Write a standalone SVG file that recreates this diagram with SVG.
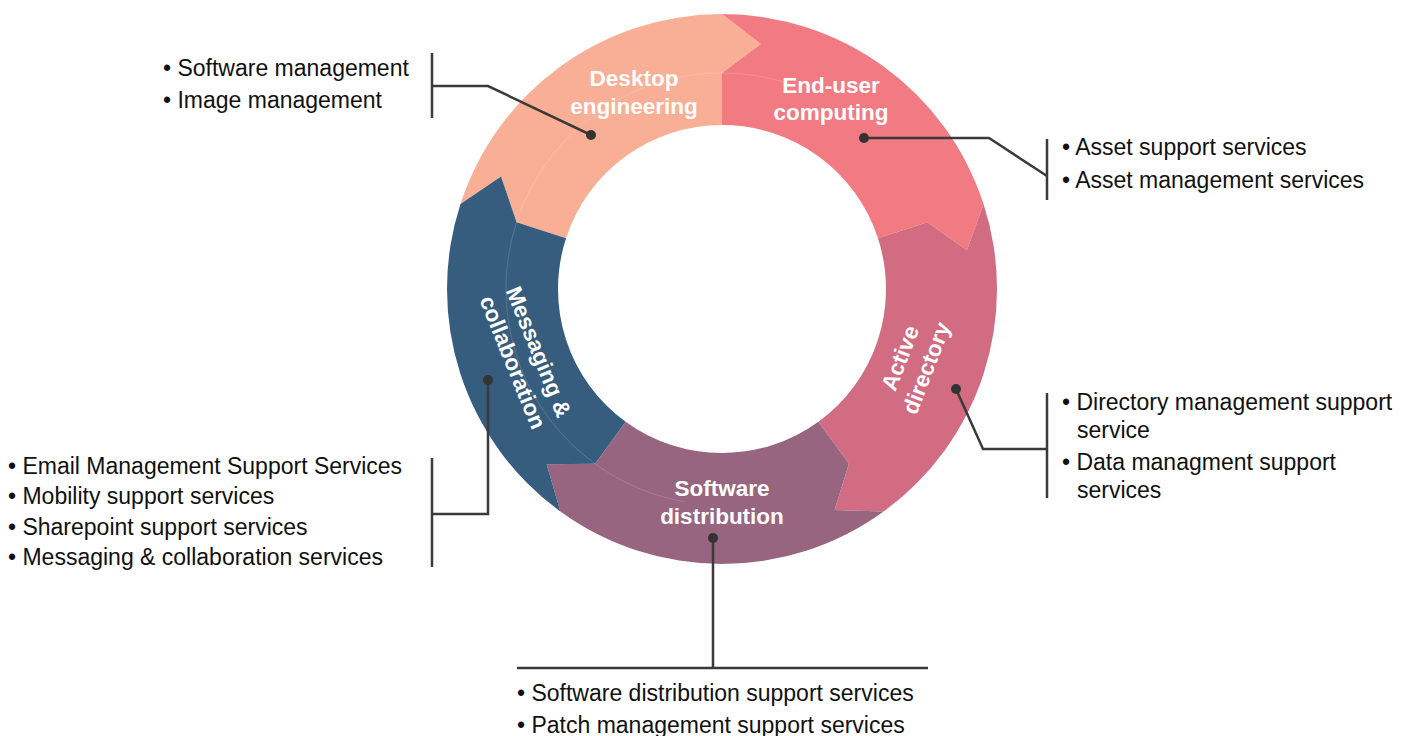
<svg xmlns="http://www.w3.org/2000/svg" width="1413" height="736" viewBox="0 0 1413 736">
<style>
.lbl{font-family:"Liberation Sans",Arial,sans-serif;font-weight:bold;font-size:22.5px;fill:#ffffff;text-anchor:middle}
.lst{font-family:"Liberation Sans",Arial,sans-serif;font-size:23px;fill:#111111}
.ln{fill:none;stroke:#3a3a3a;stroke-width:2.5}
.dot{fill:#333333}
</style>
<rect width="1413" height="736" fill="#ffffff"/>
<g id="desktop-engineering">
<path fill="#F9AE96" d="M460.46,204.02 A275,275 0 0 1 722,14 L760.80,44.05 L722,73 L722,125 A164,164 0 0 0 566.03,238.32 L516.57,222.25 L501.03,176.41 Z"/>
</g>
<g id="end-user-computing">
<path fill="#F27A83" d="M722,14 A275,275 0 0 1 983.54,204.02 L966.95,250.20 L927.43,222.25 L877.97,238.32 A164,164 0 0 0 722,125 L722,73 L760.80,44.05 Z"/>
</g>
<g id="active-directory">
<path fill="#D16C82" d="M983.54,204.02 A275,275 0 0 1 883.64,511.48 L834.59,509.97 L848.96,463.75 L818.40,421.68 A164,164 0 0 0 877.97,238.32 L927.43,222.25 L966.95,250.20 Z"/>
</g>
<g id="software-distribution">
<path fill="#97657F" d="M883.64,511.48 A275,275 0 0 1 560.36,511.48 L546.64,464.36 L595.04,463.75 L625.60,421.68 A164,164 0 0 0 818.40,421.68 L848.96,463.75 L834.59,509.97 Z"/>
</g>
<g id="messaging-collaboration">
<path fill="#365C7E" d="M560.36,511.48 A275,275 0 0 1 460.46,204.02 L501.03,176.41 L516.57,222.25 L566.03,238.32 A164,164 0 0 0 625.60,421.68 L595.04,463.75 L546.64,464.36 Z"/>
</g>
<path d="M684.49,501.72 A216,216 0 1 1 795.88,86.03" fill="none" stroke="#ffffff" stroke-opacity="0.16" stroke-width="1"/>
<g id="labels">
<text class="lbl" x="634" y="86">Desktop</text>
<text class="lbl" x="634" y="114">engineering</text>
<text class="lbl" x="831" y="93">End-user</text>
<text class="lbl" x="831" y="120">computing</text>
<text class="lbl" x="722" y="496">Software</text>
<text class="lbl" x="722" y="524">distribution</text>
<g transform="translate(913,363) rotate(-69)">
<text class="lbl" x="0" y="-6">Active</text>
<text class="lbl" x="0" y="22">directory</text>
</g>
<g transform="translate(526,357) rotate(68)">
<text class="lbl" x="0" y="-6">Messaging &amp;</text>
<text class="lbl" x="0" y="22">collaboration</text>
</g>
</g>
<g id="connectors">
<polyline class="ln" points="591,135 488,86 432,86"/>
<line class="ln" x1="432" y1="53" x2="432" y2="118"/>
<circle class="dot" cx="591" cy="135" r="5"/>
<polyline class="ln" points="864,138 989,138 1047,176"/>
<line class="ln" x1="1047" y1="139" x2="1047" y2="200"/>
<circle class="dot" cx="864" cy="138" r="5"/>
<polyline class="ln" points="956,389 983,449 1047,449"/>
<line class="ln" x1="1047" y1="393" x2="1047" y2="498"/>
<circle class="dot" cx="956" cy="389" r="5"/>
<line class="ln" x1="713" y1="538" x2="713" y2="668"/>
<line class="ln" x1="517" y1="668" x2="928" y2="668"/>
<circle class="dot" cx="713" cy="538" r="5"/>
<polyline class="ln" points="488,380 488,514 432,514"/>
<line class="ln" x1="432" y1="458" x2="432" y2="567"/>
<circle class="dot" cx="488" cy="380" r="5"/>
</g>
<g id="lists">
<text class="lst" x="163" y="76">• Software management</text>
<text class="lst" x="163" y="108">• Image management</text>
<text class="lst" x="1062" y="155">• Asset support services</text>
<text class="lst" x="1062" y="188">• Asset management services</text>
<text class="lst" x="1062" y="410">• Directory management support</text>
<text class="lst" x="1077" y="438">service</text>
<text class="lst" x="1062" y="470">• Data managment support</text>
<text class="lst" x="1077" y="498">services</text>
<text class="lst" x="8" y="474">• Email Management Support Services</text>
<text class="lst" x="8" y="504">• Mobility support services</text>
<text class="lst" x="8" y="535">• Sharepoint support services</text>
<text class="lst" x="8" y="565">• Messaging &amp; collaboration services</text>
<text class="lst" x="517" y="701">• Software distribution support services</text>
<text class="lst" x="517" y="733">• Patch management support services</text>
</g>
</svg>
